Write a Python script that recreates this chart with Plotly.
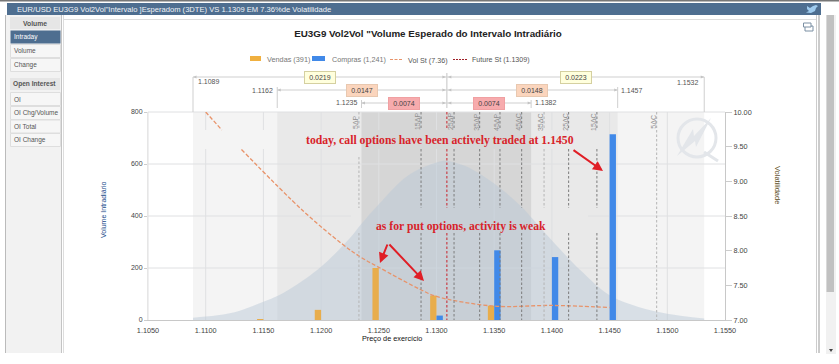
import plotly.graph_objects as go

W, H = 839, 364
L, R, T, B = 148, 725, 112, 320

# ---------- data ----------
strikes = [1.1150, 1.1200, 1.1250, 1.1300, 1.1350, 1.1400, 1.1450]
vendas = [3, 39, 200, 94, 55, 0, 0]
compras = [0, 0, 0, 17, 268, 242, 714]
bell_x = [1.1089, 1.1100, 1.1125, 1.1150, 1.1162, 1.1175, 1.1200, 1.1225, 1.1235, 1.1250, 1.1275,
          1.1300, 1.1309, 1.1325, 1.1350, 1.1375, 1.1382, 1.1400, 1.1425, 1.1450, 1.1475, 1.1500, 1.1532]
bell_y = [9, 13, 30, 70, 92, 125, 205, 315, 370, 445, 555,
          606, 612, 592, 525, 430, 395, 306, 190, 95, 50, 24, 6]
vol_x = [1.1100, 1.1114, None, 1.1131, 1.1184, 1.1218, 1.1234, 1.1250, 1.1286, 1.1300, 1.1350, 1.1400, 1.1450]
vol_y = [10.0, 9.74, None, 9.46, 8.58, 8.10, 7.91, 7.76, 7.44, 7.34, 7.20, 7.21, 7.18]
future = 1.1309
band_low = [1.1089, 1.1162, 1.1235]
band_high = [1.1532, 1.1457, 1.1382]
band_left_labels = ["0.0219", "0.0147", "0.0074"]
band_right_labels = ["0.0223", "0.0148", "0.0074"]
delta_names = ["5ΔP", "15ΔP", "25ΔP", "35ΔP", "45ΔP", "45ΔC", "35ΔC", "25ΔC", "15ΔC", "5ΔC"]
delta_x = [1.12328, 1.12866, 1.13152, 1.13374, 1.1355, 1.13738, 1.13932, 1.14145, 1.1439, 1.14908]
x_ticks = [1.105, 1.11, 1.115, 1.12, 1.125, 1.13, 1.135, 1.14, 1.145, 1.15, 1.155]
y_ticks = [0, 200, 400, 600, 800]
y2_ticks = [7, 7.5, 8, 8.5, 9, 9.5, 10]
menu_a = ["Intraday", "Volume", "Change"]
menu_b = ["OI", "OI Chg/Volume", "OI Total", "OI Change"]

FONT = "Liberation Sans"
BAR_W = 0.00055


def fx(p):
    return (p - L) / (R - L)


def fy(p):
    return (B - p) / (B - T)


def dpx(v):
    return L + (v - x_ticks[0]) / (x_ticks[-1] - x_ticks[0]) * (R - L)


shapes, anns = [], []


def rect(x0, y0, x1, y1, fill, line=None, layer="below"):
    shapes.append(dict(type="rect", xref="paper", yref="paper", x0=fx(x0), x1=fx(x1), y0=fy(y0), y1=fy(y1),
                       fillcolor=fill, line=dict(color=line or fill, width=1 if line else 0), layer=layer))


def seg(x0, y0, x1, y1, color, width=1, dash="solid", layer="below"):
    shapes.append(dict(type="line", xref="paper", yref="paper", x0=fx(x0), x1=fx(x1), y0=fy(y0), y1=fy(y1),
                       line=dict(color=color, width=width, dash=dash), layer=layer))


def poly(pts, fill=None, color=None, width=1, close=True, layer="below"):
    d = "M" + " L".join(f"{fx(a):.5f} {fy(b):.5f}" for a, b in pts) + (" Z" if close else "")
    shapes.append(dict(type="path", xref="paper", yref="paper", path=d,
                       fillcolor=fill if fill else "rgba(0,0,0,0)",
                       line=dict(color=color or "rgba(0,0,0,0)", width=width), layer=layer))


def text(x, y, s, size=7, color="#555", anchor="center", **kw):
    anns.append(dict(xref="paper", yref="paper", x=fx(x), y=fy(y), text=s, showarrow=False,
                     xanchor=anchor, yanchor="middle", font=dict(family=kw.pop("family", FONT), size=size, color=color), **kw))


# ---------- page chrome ----------
HEAD = "#4e6e90"
rect(0, 0, 839, 1.5, "#777777")
rect(7, 3, 821, 15, HEAD)
rect(5, 15, 62, 353, "#f2f2f2")
seg(5.5, 15, 5.5, 353, "#bbbbbb")
seg(61.5, 15, 61.5, 353, "#c4c4c4")
seg(63.5, 15, 63.5, 353, "#dddddd")
seg(63.5, 19.5, 817, 19.5, "#dddddd")
seg(816.5, 15, 816.5, 353, "#cccccc")
seg(819, 15, 819, 353, "#999999")
rect(826, 15, 836, 354, "#f1f1f1")
rect(826.5, 15, 834, 292, "#c1c1c1")
poly([(829, 349), (833, 349), (831, 352)], fill="#444444")
text(15, 9, "EUR/USD EU3G9 Vol2Vol\"Intervalo ]Esperadom (3DTE) VS 1.1309 EM 7.36%de Volatilidade",
     size=7.6, color="#f0f3f6", anchor="left")
# twitter bird and copy icon
poly([(807, 6), (810, 8), (813, 6), (816, 5), (818, 6), (816, 8), (815, 11), (811, 13), (806, 12.5), (809, 11), (807, 9)],
     fill="#9fcbee")
rect(805, 26, 813, 31, "#ffffff", "#7b8fa3")
rect(803.5, 23, 811, 27, "#ffffff", "#7b8fa3")

# side menu
rect(10, 17, 60, 29, "#e6e6e6")
text(35, 23, "<b>Volume</b>", size=6.8, color="#555")
rows_a = [37, 51, 65]
for name, y in zip(menu_a, rows_a):
    sel = name == "Intraday"
    rect(10.5, y - 6.5, 60.5, y + 6.5, HEAD if sel else "#f6f6f6", None if sel else "#dedede")
    text(12, y, name, size=6.5, color="#ffffff" if sel else "#555", anchor="left")
rect(10, 78, 60, 90, "#e6e6e6")
text(35, 84.5, "<b>Open Interest</b>", size=6.6, color="#555")
rows_b = [99, 113, 126.5, 140]
for name, y in zip(menu_b, rows_b):
    rect(10.5, y - 6.5, 60.5, y + 6.5, "#f6f6f6", "#dedede")
    text(12, y, name, size=6.5, color="#555", anchor="left")

# ---------- bands ----------
for lo, hi, col in zip(band_low, band_high, ["#f4f4f4", "#e9e9e9", "#d6d6d6"]):
    rect(dpx(lo), T, dpx(hi), B, col)

# gaps left where the two pasted notes cover the grid and guide lines
gap1 = (130, 149)
gap2 = (213, 233)
box1 = (205, 600)
box2 = (351, 588)

# grid
GRID = "#dfe0e2"
for v in x_ticks[:-1]:
    p = dpx(v)
    if box1[0] <= p <= box1[1]:
        seg(p, T, p, gap1[0], GRID)
        seg(p, gap1[1], p, B, GRID)
    else:
        seg(p, T, p, B, GRID)
for v in y_ticks[1:]:
    p = B - v / y_ticks[-1] * (B - T)
    if gap2[0] <= p <= gap2[1]:
        seg(L, p, box2[0], p, GRID)
        seg(box2[1], p, R, p, GRID)
    else:
        seg(L, p, R, p, GRID)

# delta guides
DASH = "2.5px,2px"
for name, v in zip(delta_names, delta_x):
    p = dpx(v)
    light = name in ("5ΔP", "35ΔC", "5ΔC")
    col = "#b4b4b4" if light else "#7c7c7c"
    if name == "5ΔC":
        seg(p, T, p, B, col, dash=DASH, layer="above")
    else:
        seg(p, T, p, gap1[0] - 2, col, dash=DASH, layer="above")
        seg(p, gap1[1] + (8 if name == "5ΔP" else 0), p, gap2[0] - 5, col, dash=DASH, layer="above")
        seg(p, gap2[1], p, B, col, dash=DASH, layer="above")
    text(p - 4, 122, name, size=7, color="#909090", textangle=-90)

# future line
pf = dpx(future)
seg(pf, T, pf, gap1[0] - 2, "#c8202a", dash=DASH, layer="above")
seg(pf, gap1[1], pf, gap2[0] - 5, "#c8202a", dash=DASH, layer="above")
seg(pf, gap2[1], pf, B, "#c8202a", dash=DASH, layer="above")

# ---------- brackets above the plot ----------
B_COL = "#cfcfcf"
rows = [77, 90, 103]
tops = [(77, T), (87, 108), (100, 108)]
label_fill = [("#ffffdd", "#d5d0a0"), ("#fbd5bd", "#e8c8b0"), ("#f7abad", "#f0a0a2")]
left_text = [(209, 81.5), (262, 91), (347, 103)]
right_text = [(688, 82), (632, 91), (546, 103)]
seg(pf, 73, pf, 108, "#c4c4c4")
for i in range(3):
    lo, hi, y = dpx(band_low[i]), dpx(band_high[i]), rows[i]
    seg(lo, y, hi, y, B_COL)
    seg(lo, tops[i][0] if i else y, lo, tops[i][1], B_COL)
    seg(hi, tops[i][0] if i else y, hi, tops[i][1], B_COL)
    for a, d in ((lo, 1), (pf - 1, -1), (pf + 1, 1), (hi, -1)):
        poly([(a, y), (a + 3.5 * d, y - 1.5), (a + 3.5 * d, y + 1.5)], fill="#c4c4c4")
    text(left_text[i][0], left_text[i][1], f"{band_low[i]:.4f}", color="#555")
    text(right_text[i][0], right_text[i][1], f"{band_high[i]:.4f}", color="#555")
    for v, s in (((band_low[i] + future) / 2, band_left_labels[i]), ((band_high[i] + future) / 2, band_right_labels[i])):
        text(dpx(v), y + 1, s, color="#444", bgcolor=label_fill[i][0], bordercolor=label_fill[i][1],
             borderwidth=1, borderpad=2, width=26)

# ---------- watermark ----------
cx, cy, r = 697, 138, 19
shapes.append(dict(type="circle", xref="paper", yref="paper", x0=fx(cx - r), x1=fx(cx + r), y0=fy(cy - r), y1=fy(cy + r),
                   line=dict(color="#e3e6ea", width=3), fillcolor="rgba(0,0,0,0)", layer="above"))
poly([(711, 118), (694, 136), (693, 129), (677, 156), (695, 141), (696, 147)], fill="#e3e6ea", layer="above")
seg(704, 152, 718, 161, "#e3e6ea", width=3, layer="above")

# ---------- legend ----------
rect(250, 56, 261, 61, "#f0b040")
text(265, 59, "Vendas (391)", size=7.3, color="#777", anchor="left")
rect(312, 56, 325, 61, "#4189e8")
text(330, 59, "Compras (1,241)", size=7.2, color="#777", anchor="left")
seg(390, 59.5, 403, 59.5, "#e8936a", width=1.2, dash="3px,1.5px")
text(406, 60, "Vol St (7.36)", size=7.2, color="#555", anchor="left")
seg(453, 59.5, 467, 59.5, "#a02028", width=1, dash="2px,1px")
text(470, 60, "Future St (1.1309)", size=7.1, color="#555", anchor="left")

# ---------- axis titles and notes ----------
text(103, 210, "Volume Intradiário", size=7, color="#1a4a8a", textangle=-90)
text(778, 185, "Volatilidade", size=7.5, color="#5a4a20", textangle=90)
text(392, 338, "Preço de exercício", size=7.3, color="#111111")
NOTE = "#d8232a"
text(440, 140, "<b>today, call options have been actively traded at 1.1450</b>", size=11.7, color=NOTE, family="Liberation Serif")
text(460.5, 226, "<b>as for put options, activity is weak</b>", size=11.7, color=NOTE, family="Liberation Serif")
for (x0, y0, x1, y1) in [(572, 149, 603, 171), (388, 243, 380, 263), (388, 243, 424, 281)]:
    anns.append(dict(xref="paper", yref="paper", x=fx(x1), y=fy(y1), ax=x0 - x1, ay=y0 - y1, text="", showarrow=True,
                     arrowhead=2, arrowsize=1, arrowwidth=2, arrowcolor="#e01e26"))

# ---------- traces ----------
fig = go.Figure()
fig.add_trace(go.Scatter(x=bell_x, y=bell_y, mode="lines", name="Distribuição", line=dict(width=0, shape="spline"),
                         fill="tozeroy", fillcolor="rgba(185,200,215,0.47)", hoverinfo="skip"))
fig.add_trace(go.Bar(x=strikes, y=vendas, yaxis="y2", name="Vendas (391)", marker=dict(color="#e8ad4c", line_width=0),
                     width=BAR_W, offset=-BAR_W))
fig.add_trace(go.Bar(x=strikes, y=compras, yaxis="y2", name="Compras (1,241)", marker=dict(color="#4189e8", line_width=0),
                     width=BAR_W, offset=0))
fig.add_trace(go.Scatter(x=vol_x, y=vol_y, yaxis="y3", mode="lines", name="Vol St (7.36)", connectgaps=False,
                         line=dict(color="#e8936a", width=1.3, dash="4px,2px", shape="spline")))

axis_font = dict(family=FONT, size=7.3, color="#444")
y_font = dict(family=FONT, size=7, color="#444")
fig.update_layout(
    width=W, height=H, autosize=False, showlegend=False, barmode="overlay",
    margin=dict(l=L, r=W - R, t=T, b=H - B, pad=0),
    paper_bgcolor="#ffffff", plot_bgcolor="rgba(0,0,0,0)",
    title=dict(text="<b>EU3G9 Vol2Vol \"Volume Esperado do Intervalo Intradiário</b>", xref="container", yref="container",
               x=428 / W, y=1 - 34 / H, xanchor="center", yanchor="middle",
               font=dict(family=FONT, size=9.8, color="#222")),
    xaxis=dict(range=[x_ticks[0], x_ticks[-1]], tickvals=x_ticks, tickformat=".4f", showgrid=False, zeroline=False,
               showline=True, linecolor="#c8c8c8", ticks="outside", ticklen=3, tickcolor="rgba(0,0,0,0)", tickfont=axis_font),
    yaxis=dict(range=[0, 800], tickvals=y_ticks, showgrid=False, zeroline=False, showline=True, linecolor="#e6e6e6",
               ticks="outside", ticklen=3, tickcolor="#cccccc", tickfont=y_font),
    yaxis2=dict(range=[0, 800], overlaying="y", visible=False),
    yaxis3=dict(range=[7, 10], tickvals=y2_ticks, tickformat=".2f", overlaying="y", side="right", showgrid=False,
                zeroline=False, showline=True, linecolor="#c8c8c8", ticks="outside", ticklen=6, tickcolor="#cccccc",
                tickfont=axis_font),
    shapes=shapes, annotations=anns,
)
fig.write_html("out.html", config={"displayModeBar": False},
               post_script="document.body.style.margin='0';document.body.style.overflow='hidden';")
